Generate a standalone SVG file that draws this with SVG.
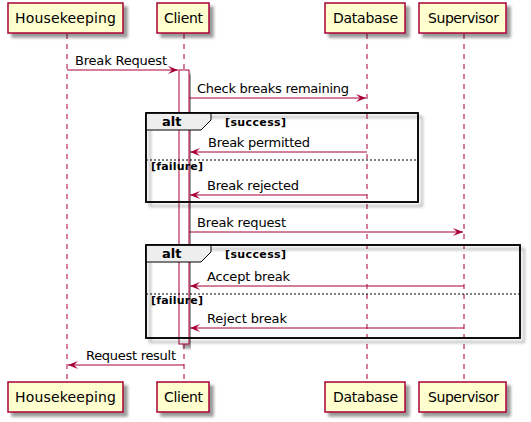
<svg xmlns="http://www.w3.org/2000/svg" width="531" height="422" viewBox="0 0 531 422">
<defs>
<filter id="sh" x="-10%" y="-10%" width="130%" height="140%">
<feGaussianBlur in="SourceAlpha" stdDeviation="1.7"/>
<feOffset dx="4" dy="4" result="b"/>
<feComponentTransfer><feFuncA type="linear" slope="0.4"/></feComponentTransfer>
<feMerge><feMergeNode/><feMergeNode in="SourceGraphic"/></feMerge>
</filter>
<marker id="ah" viewBox="0 0 10 8" refX="10" refY="4" markerWidth="10" markerHeight="8" markerUnits="userSpaceOnUse" orient="auto">
<polygon points="0,0 10,4 0,8 4,4" fill="#A80036"/>
</marker>
</defs>
<style>
.life{stroke:#A80036;stroke-width:1;stroke-dasharray:5,5;fill:none}
.part{fill:#FEFECE;stroke:#A80036;stroke-width:1.5}
.pt{font-family:"DejaVu Sans",sans-serif;font-size:14px;fill:#000}
.msg{stroke:#A80036;stroke-width:1;fill:none}
.mt{font-family:"DejaVu Sans",sans-serif;font-size:13px;fill:#000}
.frame{fill:none;stroke:#000;stroke-width:1.5}
.tab{fill:#EEEEEE;stroke:#000;stroke-width:1}
.ft{font-family:"DejaVu Sans",sans-serif;font-size:11px;font-weight:bold;fill:#000}
.ft13{font-family:"DejaVu Sans",sans-serif;font-size:13px;font-weight:bold;fill:#000}
.sep{stroke:#000;stroke-width:1;stroke-dasharray:2,2}
.act{fill:#FFFFFF;stroke:#A80036;stroke-width:1}
</style>
<rect width="531" height="422" fill="#FFFFFF"/>
<g id="lifelines">
<line class="life" x1="67" y1="34" x2="67" y2="382"/>
<line class="life" x1="184" y1="34" x2="184" y2="382"/>
<line class="life" x1="367" y1="34" x2="367" y2="382"/>
<line class="life" x1="464" y1="34" x2="464" y2="382"/>
</g>
<g id="housekeeping">
<rect class="part" x="8" y="3" width="115" height="30" filter="url(#sh)"/>
<text class="pt" x="15" y="23" textLength="101">Housekeeping</text>
<rect class="part" x="8" y="382" width="115" height="30" filter="url(#sh)"/>
<text class="pt" x="15" y="402" textLength="101">Housekeeping</text>
</g>
<g id="client">
<rect class="part" x="157" y="3" width="52" height="30" filter="url(#sh)"/>
<text class="pt" x="164" y="23" textLength="39">Client</text>
<rect class="part" x="157" y="382" width="52" height="30" filter="url(#sh)"/>
<text class="pt" x="164" y="402" textLength="39">Client</text>
</g>
<g id="database">
<rect class="part" x="325" y="3" width="80" height="30" filter="url(#sh)"/>
<text class="pt" x="333" y="23" textLength="65">Database</text>
<rect class="part" x="325" y="382" width="80" height="30" filter="url(#sh)"/>
<text class="pt" x="333" y="402" textLength="65">Database</text>
</g>
<g id="supervisor">
<rect class="part" x="419" y="3" width="87" height="30" filter="url(#sh)"/>
<text class="pt" x="428" y="23" textLength="71">Supervisor</text>
<rect class="part" x="419" y="382" width="87" height="30" filter="url(#sh)"/>
<text class="pt" x="428" y="402" textLength="71">Supervisor</text>
</g>
<g id="activation">
<rect class="act" x="179" y="70" width="10" height="274" filter="url(#sh)"/>
</g>
<g id="alt1">
<rect class="frame" x="146" y="113" width="272" height="89" filter="url(#sh)"/>
<polygon class="tab" points="146,113 211,113 211,120 201,130 146,130"/>
<rect class="frame" x="146" y="113" width="272" height="89"/>
<text class="ft13" x="162" y="126">alt</text>
<text class="ft" x="225" y="126" textLength="61">[success]</text>
<line class="sep" x1="146" y1="160" x2="418" y2="160"/>
<text class="ft" x="151" y="170" textLength="52">[failure]</text>
</g>
<g id="alt2">
<rect class="frame" x="146" y="245" width="374" height="93" filter="url(#sh)"/>
<polygon class="tab" points="146,245 211,245 211,252 201,262 146,262"/>
<rect class="frame" x="146" y="245" width="374" height="93"/>
<text class="ft13" x="162" y="258">alt</text>
<text class="ft" x="225" y="258" textLength="61">[success]</text>
<line class="sep" x1="146" y1="294" x2="520" y2="294"/>
<text class="ft" x="151" y="304" textLength="52">[failure]</text>
</g>
<g id="connectors">
<line class="msg" x1="67" y1="70" x2="178" y2="70" marker-end="url(#ah)"/>
<text class="mt" x="75" y="65" textLength="92">Break Request</text>
<line class="msg" x1="189" y1="98" x2="366" y2="98" marker-end="url(#ah)"/>
<text class="mt" x="197" y="93" textLength="152">Check breaks remaining</text>
<line class="msg" x1="367" y1="152" x2="190" y2="152" marker-end="url(#ah)"/>
<text class="mt" x="208" y="147" textLength="102">Break permitted</text>
<line class="msg" x1="367" y1="195" x2="190" y2="195" marker-end="url(#ah)"/>
<text class="mt" x="207" y="190" textLength="92">Break rejected</text>
<line class="msg" x1="189" y1="232" x2="463" y2="232" marker-end="url(#ah)"/>
<text class="mt" x="197" y="227" textLength="89">Break request</text>
<line class="msg" x1="464" y1="286" x2="190" y2="286" marker-end="url(#ah)"/>
<text class="mt" x="207" y="281" textLength="83">Accept break</text>
<line class="msg" x1="464" y1="328" x2="190" y2="328" marker-end="url(#ah)"/>
<text class="mt" x="207" y="323" textLength="80">Reject break</text>
<line class="msg" x1="184" y1="365" x2="68" y2="365" marker-end="url(#ah)"/>
<text class="mt" x="86" y="360" textLength="90">Request result</text>
</g>
</svg>
